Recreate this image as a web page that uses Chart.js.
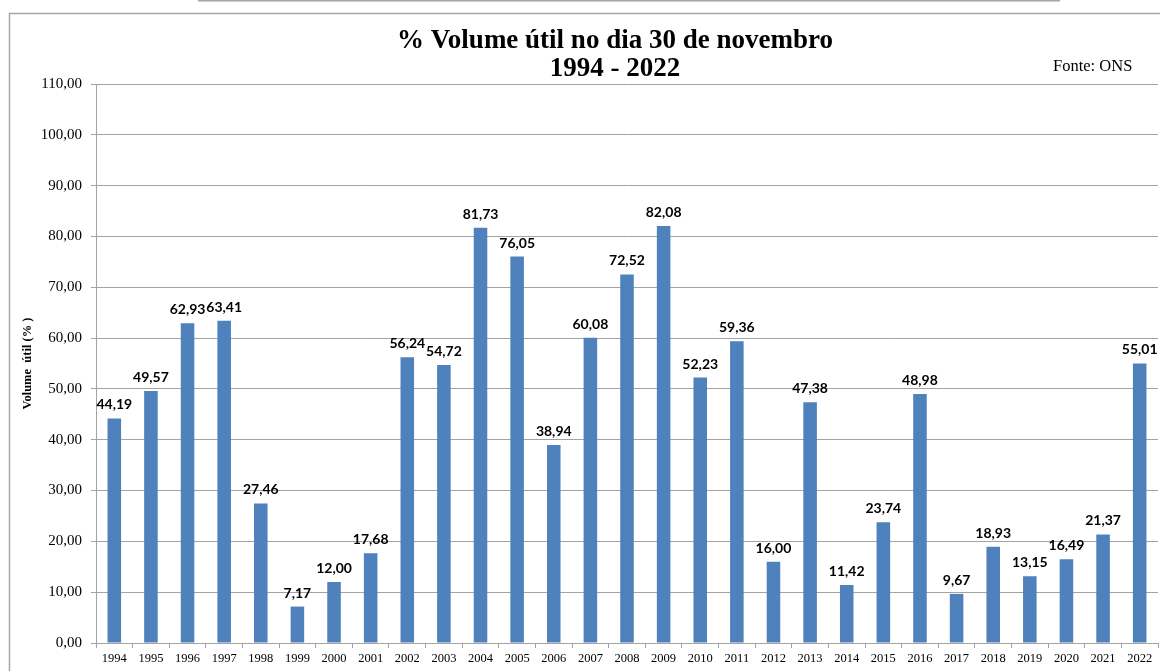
<!DOCTYPE html>
<html>
<head>
<meta charset="utf-8">
<script src="https://cdn.jsdelivr.net/npm/chart.js@4.4.1/dist/chart.umd.min.js"></script>
<style>
  html, body { margin: 0; padding: 0; background: #ffffff; }
  canvas { display: block; }
</style>
</head>
<body>
<canvas id="c" width="1160" height="671"></canvas>
<script>
const years = ['1994','1995','1996','1997','1998','1999','2000','2001','2002','2003','2004','2005','2006','2007','2008','2009','2010','2011','2012','2013','2014','2015','2016','2017','2018','2019','2020','2021','2022'];
const volumeUtil = [44.19,49.57,62.93,63.41,27.46,7.17,12.00,17.68,56.24,54.72,81.73,76.05,38.94,60.08,72.52,82.08,52.23,59.36,16.00,47.38,11.42,23.74,48.98,9.67,18.93,13.15,16.49,21.37,55.01];
const titleLines = ['% Volume útil no dia 30 de novembro', '1994 - 2022'];
const sourceText = 'Fonte: ONS';
const yAxisTitle = 'Volume  útil (% )';
const yMin = 0, yMax = 110, yStep = 10;

const fmt = v => v.toFixed(2).replace('.', ',');
const gridColor = '#a3a3a3';

const framePlugin = {
  id: 'frame',
  beforeDraw(chart) {
    const ctx = chart.ctx;
    ctx.save();
    ctx.fillStyle = '#ffffff';
    ctx.fillRect(0, 0, chart.width, chart.height);
    ctx.strokeStyle = '#a6a6a6';
    ctx.lineWidth = 1.5;
    ctx.beginPath();
    ctx.moveTo(9.5, chart.height + 5);
    ctx.lineTo(9.5, 13.5);
    ctx.lineTo(chart.width + 5, 13.5);
    ctx.stroke();
    ctx.lineWidth = 2;
    ctx.beginPath();
    ctx.moveTo(198, 0.5);
    ctx.lineTo(1060, 0.5);
    ctx.stroke();
    ctx.restore();
  }
};

const headerPlugin = {
  id: 'header',
  afterDraw(chart) {
    const ctx = chart.ctx;
    ctx.save();
    ctx.fillStyle = '#000000';
    ctx.textAlign = 'center';
    ctx.textBaseline = 'middle';
    ctx.font = 'bold 27px "Liberation Serif", "Times New Roman", serif';
    ctx.fillText(titleLines[0], 615, 41);
    ctx.fillText(titleLines[1], 615, 69);
    ctx.textAlign = 'left';
    ctx.textBaseline = 'alphabetic';
    ctx.font = '16.5px "Liberation Serif", "Times New Roman", serif';
    ctx.fillText(sourceText, 1053, 71);
    ctx.restore();
  }
};

const valueLabels = {
  id: 'valueLabels',
  afterDatasetsDraw(chart) {
    const ctx = chart.ctx;
    const meta = chart.getDatasetMeta(0);
    const data = chart.data.datasets[0].data;
    ctx.save();
    ctx.fillStyle = '#000000';
    ctx.font = 'bold 14px Lato, "Open Sans", sans-serif';
    ctx.textAlign = 'center';
    ctx.textBaseline = 'alphabetic';
    meta.data.forEach((el, i) => {
      ctx.fillText(fmt(data[i]), el.x, el.y - 9);
    });
    ctx.restore();
  }
};

new Chart(document.getElementById('c'), {
  type: 'bar',
  data: {
    labels: years,
    datasets: [{
      data: volumeUtil,
      backgroundColor: '#4f81bd',
      borderWidth: 0,
      barPercentage: 0.37,
      categoryPercentage: 1.0
    }]
  },
  options: {
    responsive: false,
    animation: false,
    devicePixelRatio: 1,
    layout: { padding: { left: 9, right: 2, top: 84, bottom: 0 } },
    plugins: {
      legend: { display: false },
      title: { display: false },
      tooltip: { enabled: false }
    },
    scales: {
      x: {
        offset: true,
        grid: {
          offset: true,
          drawOnChartArea: false,
          drawTicks: true,
          tickLength: 5,
          color: gridColor
        },
        border: { color: gridColor, width: 1 },
        ticks: {
          color: '#000000',
          padding: 3,
          maxRotation: 0,
          autoSkip: false,
          font: { family: '"Liberation Serif", "Times New Roman", serif', size: 12.5 }
        },
        afterFit(s) { s.height = 28; }
      },
      y: {
        min: yMin,
        max: yMax,
        grid: { color: gridColor, tickLength: 5, drawTicks: true },
        border: { color: gridColor, width: 1 },
        ticks: {
          stepSize: yStep,
          color: '#000000',
          padding: 9,
          callback: v => fmt(v),
          font: { family: '"Liberation Serif", "Times New Roman", serif', size: 15 }
        },
        title: {
          display: true,
          text: yAxisTitle,
          color: '#000000',
          padding: { top: 11, bottom: 0 },
          font: { family: '"Liberation Serif", "Times New Roman", serif', size: 12.5, weight: 'bold' }
        },
        afterFit(s) { s.width = 87; }
      }
    }
  },
  plugins: [framePlugin, headerPlugin, valueLabels]
});
</script>
</body>
</html>
